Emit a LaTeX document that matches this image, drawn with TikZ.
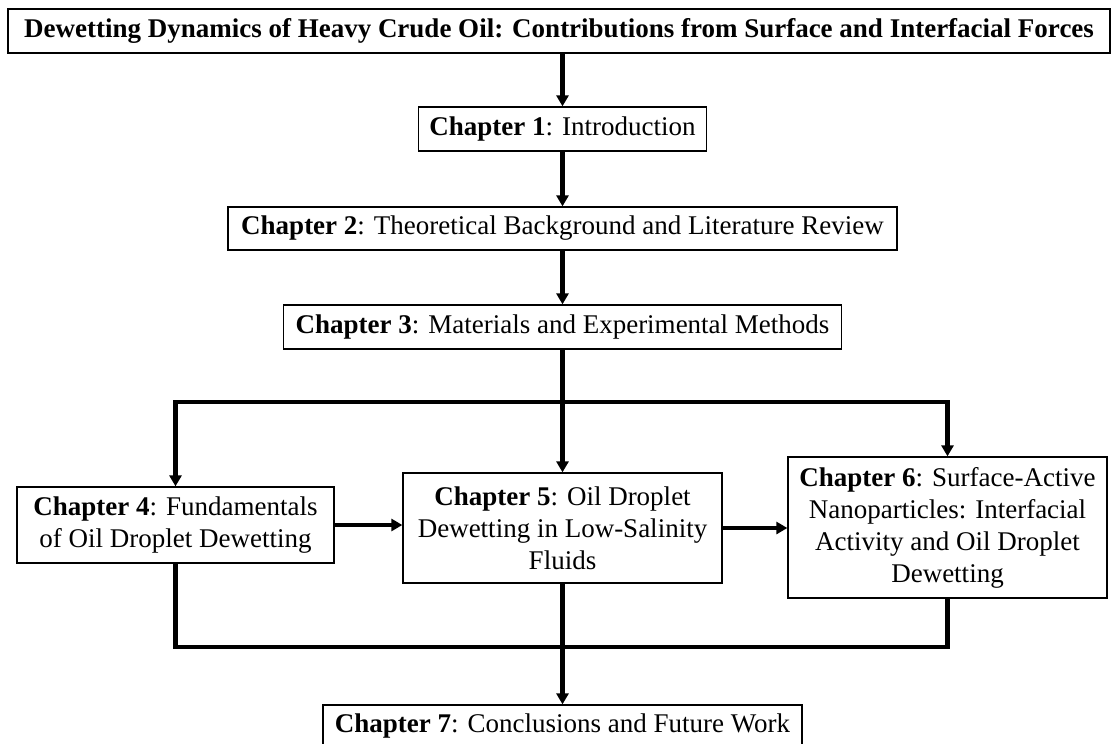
\documentclass[tikz,border=0pt]{standalone}
\usepackage{fontspec}
\setmainfont{Liberation Serif}
\usetikzlibrary{arrows.meta, positioning, calc}
\tikzset{
    thesisBlock/.style={
        draw=black, fill=white, line width=1.3pt, align=center, inner sep=0pt, font=\fontsize{27}{32}\selectfont\rmfamily
    },
    thesisTitle/.style={
        thesisBlock, font=\fontsize{27}{32}\selectfont\rmfamily\bfseries
    },
    thesisLine/.style={
        line width=4.2pt, draw=black
    },
    thesisArrow/.style={
        thesisLine, -{Triangle[length=11pt, width=12pt]}
    }
}

\begin{document}
\begin{tikzpicture}[x=1pt, y=-1pt]
    \useasboundingbox (0, 0) rectangle (1114, 744);

    % ── THESIS TITLE
    \node[thesisTitle, minimum width=1102pt, minimum height=44pt] (title) at (559, 31) {Dewetting Dynamics of Heavy Crude Oil: Contributions from Surface and Interfacial Forces};

    % ── INTRODUCTORY CHAPTERS
    \node[thesisBlock, minimum width=288pt, minimum height=44pt] (ch1) at (562.5, 129) {\textbf{Chapter 1}: Introduction};
    \node[thesisBlock, minimum width=669pt, minimum height=43pt] (ch2) at (562.5, 228.5) {\textbf{Chapter 2}: Theoretical Background and Literature Review};
    \node[thesisBlock, minimum width=558pt, minimum height=44pt] (ch3) at (562.5, 327) {\textbf{Chapter 3}: Materials and Experimental Methods};

    % ── RESULTS CHAPTERS
    \node[thesisBlock, minimum width=317pt, minimum height=76pt] (ch4) at (175.5, 525) {
        \textbf{Chapter 4}: Fundamentals\\
        of Oil Droplet Dewetting
    };
    \node[thesisBlock, minimum width=319pt, minimum height=110pt] (ch5) at (562.5, 528) {
        \textbf{Chapter 5}: Oil Droplet\\
        Dewetting in Low-Salinity\\
        Fluids
    };
    \node[thesisBlock, minimum width=319pt, minimum height=141pt] (ch6) at (947.5, 527.5) {
        \textbf{Chapter 6}: Surface-Active\\
        Nanoparticles: Interfacial\\
        Activity and Oil Droplet\\
        Dewetting
    };

    % ── CONCLUSIONS
    \node[thesisBlock, minimum width=479pt, minimum height=41pt] (ch7) at (562.5, 725.5) {\textbf{Chapter 7}: Conclusions and Future Work};

    % ── CONNECTORS & ARROWS
    \coordinate (splitTop) at (562.5, 402);
    \coordinate (splitBot) at (562.5, 647);
    \draw[thesisArrow] (title.south -| ch1.north) -- (ch1.north);
    \draw[thesisArrow] (ch1.south) -- (ch2.north);
    \draw[thesisArrow] (ch2.south) -- (ch3.north);
    \draw[thesisArrow] (ch3.south) -- (ch5.north);
    \draw[thesisArrow] (splitTop) -| (ch4.north);
    \draw[thesisArrow] (splitTop) -| (ch6.north);
    \draw[thesisArrow] (ch4.east) -- (ch4.east -| ch5.west);
    \draw[thesisArrow] (ch5.east) -- (ch5.east -| ch6.west);
    \draw[thesisLine] (ch4.south) |- (splitBot) -| (ch6.south);
    \draw[thesisArrow] (ch5.south) -- (ch7.north);
\end{tikzpicture}
\end{document}
